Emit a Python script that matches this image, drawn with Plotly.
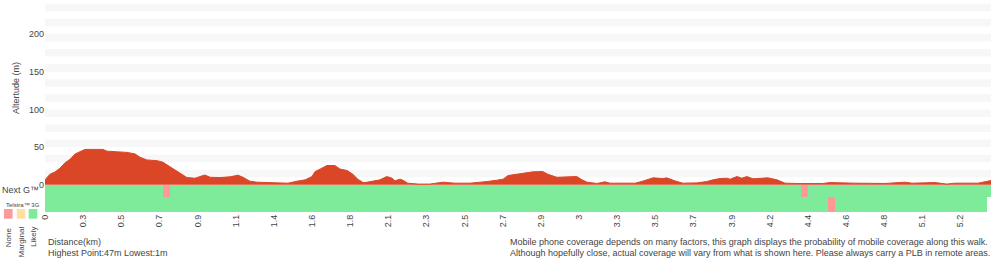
import plotly.graph_objects as go

# ---- data ----
# sample position along the walk (index units; one tick label every 10 units)
sample_pos = [0, 1.3, 2.6, 3.9, 5.2, 6.6, 7.9, 9.2, 10.5, 11.8, 15.2, 16.3, 21.5, 23.6, 24.9,
              26.7, 29.4, 30.9, 32.8, 34.6, 37.2, 39.3, 41.9, 43.3, 45.9, 48.5, 50.6, 51.9,
              53.7, 55.6, 58.2, 60.8, 63.7, 66.1, 68.2, 70.0, 70.8, 72.1, 73.9, 76.0, 77.3,
              79.2, 80.7, 82.0, 83.4, 83.9, 86.0, 87.8, 89.6, 91.0, 91.7, 93.1, 93.8, 95.1,
              97.8, 100.9, 104.3, 107.5, 111.4, 114.0, 115.9, 118.5, 120.1, 121.4, 123.7,
              125.8, 127.9, 130.5, 131.8, 134.2, 137.1, 139.4, 140.8, 142.1, 144.7, 146.8,
              148.1, 151.5, 154.7, 156.7, 159.4, 162.0, 163.0, 165.1, 167.2, 170.9, 173.5,
              175.1, 176.9, 178.8, 179.6, 181.4, 182.7, 184.0, 185.6, 188.0, 189.5, 191.9,
              194.0, 197.1, 203.9, 205.8, 208.4, 209.7, 212.3, 220.2, 225.4, 227.3, 233.3,
              236.4, 238.5, 244.6, 245.6, 246.9, 248.0]
altitude_m = [6.6, 14, 17, 22, 29, 34, 41, 44, 47, 47, 47, 44.6, 43, 41, 36.6,
              33, 32, 30, 24, 17.6, 9.7, 8.8, 13, 10, 9.7, 10.6, 12.8, 10,
              4.9, 3.5, 3, 1.8, 2.2, 4.9, 6.6, 11, 17.6, 20.8, 25.6, 25.6, 21,
              19, 14, 7.5, 3, 3, 4.9, 6.6, 11, 8.8, 5.3, 7.5, 6.2, 2.2,
              1, 1, 3.5, 2.2, 2.2, 3, 4.4, 6.2, 7.5, 12.3, 13.7,
              15, 17.2, 17.6, 14, 10, 10, 11, 6.6, 3.5, 1.8, 4,
              2.2, 1.8, 2.2, 4.9, 9.3, 8.4, 9.3, 5.3, 2.2, 2.6, 4.4,
              6.6, 8.4, 8.8, 7.5, 11, 8.8, 11, 8, 8.8, 9.3, 6.6,
              2.2, 1.8, 1.8, 3, 3, 2.2, 2.2, 1.8, 3.5, 2.2, 3,
              1, 2.2, 2.2, 3.5, 4.9, 5.7]

tick_pos = list(range(0, 250, 10))
tick_labels = ["0", "0.3", "0.5", "0.7", "0.9", "1.1", "1.4", "1.6", "1.8", "2.1", "2.3",
               "2.5", "2.7", "2.9", "3", "3.3", "3.5", "3.7", "3.9", "4.2", "4.4", "4.6",
               "4.8", "5.1", "5.2"]

# coverage segments (start, end along the walk, status)
nextg_start = [0, 30.9, 32.8, 198.2, 200.0]
nextg_end = [30.9, 32.8, 198.2, 200.0, 248.0]
nextg_status = ["Likely", "None", "Likely", "None", "Likely"]

g3_start = [0, 205.2, 207.1]
g3_end = [205.2, 207.1, 246.9]
g3_status = ["Likely", "None", "Likely"]

legend_status = ["None", "Marginal", "Likely"]

# ---- style ----
STATUS_COLORS = {"None": "#ff9999", "Marginal": "#ffe0a3", "Likely": "#7deb9a"}
FILL = "#db4627"
TXT = "#444444"
FONT = "Liberation Sans, Arial, sans-serif"

L, R, T, B = 45, 991, 3, 212
W, H = 1000, 260


def px(xp):
    return (xp - L) / (R - L)


def py(yp):
    return (B - yp) / (B - T)


fig = go.Figure()

fig.add_trace(go.Scatter(
    x=sample_pos, y=altitude_m, mode="lines", fill="tozeroy",
    line=dict(color=FILL, width=1), fillcolor=FILL, hoverinfo="skip", showlegend=False))


def add_row(starts, ends, statuses, top, bottom):
    fig.add_trace(go.Bar(
        x=[(s + e) / 2 for s, e in zip(starts, ends)],
        width=[e - s for s, e in zip(starts, ends)],
        y=[bottom - top] * len(starts), base=[top] * len(starts),
        marker=dict(color=[STATUS_COLORS[s] for s in statuses], line=dict(width=0)),
        hoverinfo="skip", showlegend=False))


add_row(nextg_start, nextg_end, nextg_status, 0, -16)
add_row(g3_start, g3_end, g3_status, -16, -36)

shapes = []
# alternating background bands
for v in range(10, 241, 20):
    shapes.append(dict(type="rect", xref="paper", yref="y", x0=0, x1=1, y0=v, y1=min(v + 10, 240),
                       fillcolor="#f7f7f7", line=dict(width=0), layer="below"))
# legend swatches
sw_x = [4, 16.7, 28.7]
for xs, st in zip(sw_x, legend_status):
    shapes.append(dict(type="rect", xref="paper", yref="paper", x0=px(xs), x1=px(xs + 8.6),
                       y0=py(218.7), y1=py(209), fillcolor=STATUS_COLORS[st], line=dict(width=0)))

annotations = []


def ann(text, xp, yp, size=9, xanchor="left", yanchor="middle", angle=0):
    annotations.append(dict(text=text, x=px(xp), y=py(yp), xref="paper", yref="paper",
                            showarrow=False, xanchor=xanchor, yanchor=yanchor, textangle=angle,
                            font=dict(size=size, color=TXT, family=FONT)))


ann("Altertude (m)", 16, 88, xanchor="center", angle=-90)
ann("Next G™", 0, 190)
ann("Telstra™ 3G", 4, 205, size=6)
for xs, st in zip(sw_x, legend_status):
    ann(st, xs + 4.3, 225, size=8, xanchor="center", yanchor="top", angle=-90)
ann("Distance(km)", 46, 242)
ann("Highest Point:47m Lowest:1m", 46, 253)
ann("Mobile phone coverage depends on many factors, this graph displays the probability of mobile coverage along this walk.", 508, 242)
ann("Although hopefully close, actual coverage will vary from what is shown here. Please always carry a PLB in remote areas.", 508, 253)

fig.update_layout(
    width=W, height=H, margin=dict(l=L, r=W - R, t=T, b=H - B, pad=0),
    paper_bgcolor="white", plot_bgcolor="white", bargap=0, barmode="overlay",
    font=dict(family=FONT, size=9, color=TXT),
    shapes=shapes, annotations=annotations,
    xaxis=dict(range=[0, 248], tickmode="array", tickvals=tick_pos, ticktext=tick_labels,
               tickangle=-90, showgrid=False, zeroline=False, showline=False, ticks="",
               tickfont=dict(size=9, color=TXT), fixedrange=True),
    yaxis=dict(range=[-36, 241], tickmode="array", tickvals=[0, 50, 100, 150, 200],
               showgrid=False, zeroline=False, showline=False, ticks="",
               tickfont=dict(size=9, color=TXT), fixedrange=True),
)

fig.write_html("out.html", config={"displayModeBar": False})
